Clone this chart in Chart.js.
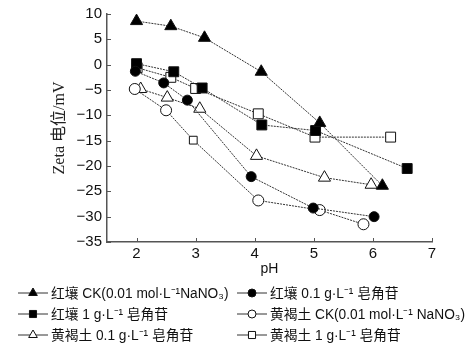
<!DOCTYPE html>
<html lang="zh">
<head>
<meta charset="UTF-8">
<title>Zeta 电位 - pH</title>
<script src="https://cdn.jsdelivr.net/npm/chart.js"></script>
<style>
  body { margin: 0; background: #fff; }
</style>
</head>
<body>
<canvas id="myChart" width="473" height="354"></canvas>
<script>
// pH values and zeta potentials (mV)
const redCK_pH   = [2.0, 2.58, 3.15, 4.11, 5.1, 6.16];
const redCK_zeta = [8.6, 7.6, 5.3, -1.4, -11.5, -23.9];
const red01_pH   = [1.98, 2.46, 2.86, 3.94, 4.99, 6.02];
const red01_zeta = [-1.3, -3.6, -7.0, -22.1, -28.3, -30.0];
const red1_pH    = [2.0, 2.63, 3.11, 4.12, 5.03, 6.58];
const red1_zeta  = [0.2, -1.4, -4.6, -11.9, -13.0, -20.5];
const yelCK_pH   = [1.97, 2.5, 2.96, 4.06, 5.1, 5.84];
const yelCK_zeta = [-4.8, -9.0, -14.9, -26.8, -28.7, -31.5];
const yel01_pH   = [2.07, 2.52, 3.07, 4.03, 5.18, 5.97];
const yel01_zeta = [-4.8, -6.5, -8.7, -18.0, -22.3, -23.7];
const yel1_pH    = [2.01, 2.58, 3.0, 4.06, 5.02, 6.3];
const yel1_zeta  = [-0.6, -2.5, -4.7, -9.7, -14.3, -14.3];

const seriesNames = [
    '红壤 CK(0.01 mol·L⁻¹NaNO₃)',
    '红壤 0.1 g·L⁻¹ 皂角苷',
    '红壤 1 g·L⁻¹ 皂角苷',
    '黄褐土 CK(0.01 mol·L⁻¹ NaNO₃)',
    '黄褐土 0.1 g·L⁻¹ 皂角苷',
    '黄褐土 1 g·L⁻¹ 皂角苷'
];
const xTicks = [2, 3, 4, 5, 6, 7];

function pts(xs, ys) {
    return xs.map((x, i) => ({ x: x, y: ys[i] }));
}

const lineColor = '#333';
const axisColor = '#555';
const numFont = "'Liberation Sans', Arial, sans-serif";

function series(label, data, style, filled, radius) {
    return {
        label: label,
        data: data,
        borderColor: lineColor,
        borderWidth: 1,
        borderDash: [2, 1],
        pointStyle: style,
        pointRadius: radius,
        pointHoverRadius: radius,
        pointBackgroundColor: filled ? '#000' : '#fff',
        pointBorderColor: '#111',
        pointBorderWidth: 1,
        fill: false,
        tension: 0
    };
}

// inward tick marks + two-column legend drawn below the axes
const extras = {
    id: 'extras',
    afterDraw(chart) {
        const ctx = chart.ctx;
        const xs = chart.scales.x, ys = chart.scales.y;
        const area = chart.chartArea;
        ctx.save();
        ctx.strokeStyle = axisColor;
        ctx.lineWidth = 1;
        xs.ticks.forEach(t => {
            const px = Math.round(xs.getPixelForValue(t.value)) + 0.5;
            ctx.beginPath();
            ctx.moveTo(px, area.bottom);
            ctx.lineTo(px, area.bottom - 4);
            ctx.stroke();
        });
        ys.ticks.forEach(t => {
            const py = Math.round(ys.getPixelForValue(t.value)) + 0.5;
            ctx.beginPath();
            ctx.moveTo(area.left, py);
            ctx.lineTo(area.left + 4, py);
            ctx.stroke();
        });

        // legend
        const rows = [293, 314, 335];
        const cols = [18, 237];
        chart.data.datasets.forEach((ds, i) => {
            const x0 = cols[i % 2];
            const y0 = rows[Math.floor(i / 2)];
            ctx.setLineDash([]);
            ctx.strokeStyle = lineColor;
            ctx.lineWidth = 1;
            ctx.beginPath();
            ctx.moveTo(x0, y0);
            ctx.lineTo(x0 + 30, y0);
            ctx.stroke();
            ctx.fillStyle = ds.pointBackgroundColor;
            ctx.strokeStyle = '#111';
            const st = Array.isArray(ds.pointStyle) ? ds.pointStyle[0] : ds.pointStyle;
            Chart.helpers.drawPoint(ctx, {
                pointStyle: st,
                radius: st === 'triangle' ? 5 : (st === 'rect' ? 5 : 4),
                rotation: 0,
                borderWidth: 1
            }, x0 + 15, y0);
            ctx.fillStyle = '#111';
            ctx.font = "14px " + numFont + ", 'Noto Sans CJK SC'";
            ctx.textBaseline = 'middle';
            ctx.textAlign = 'left';
            const w = ctx.measureText(ds.label).width;
            ctx.fillText(ds.label, x0 + 33, y0 + 1, w * 0.98);
        });
        ctx.restore();
    }
};

const ctx = document.getElementById('myChart').getContext('2d');

new Chart(ctx, {
    type: 'line',
    data: {
        datasets: [
            series(seriesNames[0], pts(redCK_pH, redCK_zeta), 'triangle', true, 7),
            series(seriesNames[1], pts(red01_pH, red01_zeta), 'circle', true, 5),
            series(seriesNames[2], pts(red1_pH, red1_zeta), 'rect', true, 7),
            series(seriesNames[3], pts(yelCK_pH, yelCK_zeta),
                   ['circle', 'circle', 'rect', 'circle', 'circle', 'circle'], false, 5.5),
            series(seriesNames[4], pts(yel01_pH, yel01_zeta), 'triangle', false, 7),
            series(seriesNames[5], pts(yel1_pH, yel1_zeta), 'rect', false, 7)
        ]
    },
    options: {
        responsive: false,
        animation: false,
        devicePixelRatio: 1,
        layout: { padding: { top: 13, right: 41, bottom: 72, left: 0 } },
        plugins: {
            legend: { display: false },
            tooltip: { enabled: false }
        },
        scales: {
            x: {
                type: 'linear',
                min: 1.5,
                max: 7,
                afterBuildTicks(scale) {
                    scale.ticks = xTicks.map(v => ({ value: v }));
                },
                afterFit(scale) { scale.height = 40; },
                grid: { drawOnChartArea: false, drawTicks: false, color: 'rgba(0,0,0,0)' },
                border: { display: true, color: axisColor, width: 1.5, dash: [2, 1] },
                ticks: {
                    padding: 3,
                    color: '#111',
                    font: { family: numFont, size: 15 }
                },
                title: {
                    display: true,
                    text: 'pH',
                    color: '#111',
                    padding: { top: 0, bottom: 4 },
                    font: { family: numFont, size: 14 }
                }
            },
            y: {
                min: -35,
                max: 10,
                afterFit(scale) { scale.width = 107; },
                grid: { drawOnChartArea: false, drawTicks: false, color: 'rgba(0,0,0,0)' },
                border: { display: true, color: axisColor, width: 1.5, dash: [2, 1] },
                ticks: {
                    stepSize: 5,
                    padding: 5,
                    color: '#111',
                    font: { family: numFont, size: 15 },
                    callback: v => String(v).replace('-', '−')
                },
                title: {
                    display: true,
                    text: 'Zeta 电位/mV',
                    color: '#222',
                    padding: { top: 50, bottom: 0 },
                    font: { family: "'Liberation Serif', 'Noto Sans CJK SC', serif", size: 16 }
                }
            }
        }
    },
    plugins: [extras]
});
</script>
</body>
</html>
